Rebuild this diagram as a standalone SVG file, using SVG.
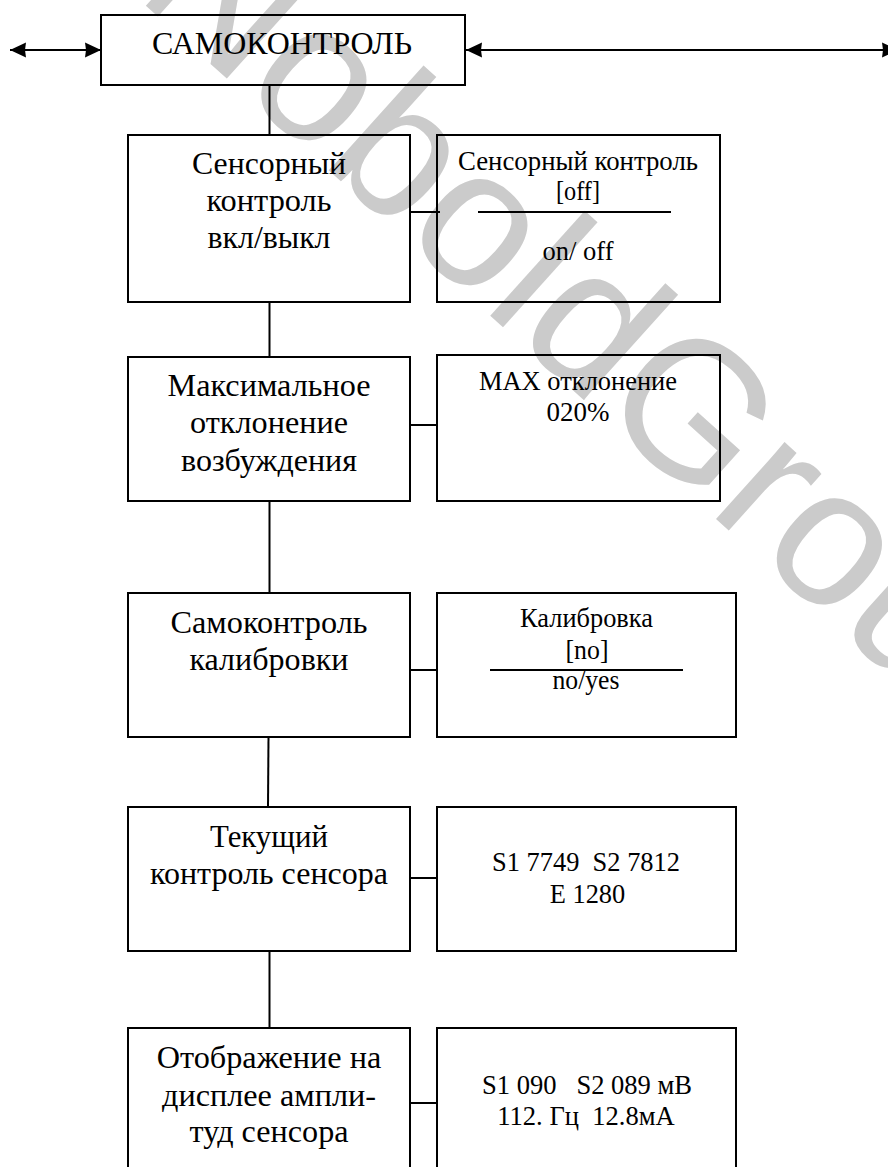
<svg xmlns="http://www.w3.org/2000/svg" width="888" height="1167" viewBox="0 0 888 1167">
<style>
.box{fill:none;stroke:#000;stroke-width:2}
.ln{fill:none;stroke:#000;stroke-width:2}
.t{font-family:'Liberation Serif','DejaVu Serif',serif;fill:#000;text-anchor:middle;white-space:pre}
.l{font-size:32px}
.r{font-size:26.67px}
.wm{font-family:'Liberation Sans',Arial,sans-serif;font-size:195px;fill:#cbcbcb}
</style>
<defs>
<marker id="ah" markerUnits="userSpaceOnUse" viewBox="-17 -9 19 18" markerWidth="19" markerHeight="18" refX="0" refY="0" orient="auto-start-reverse">
<path d="M0,0 L-16,-7.5 L-15,0 L-16,7.5 Z" fill="#000"/>
</marker>
</defs>
<rect width="888" height="1167" fill="#fff"/>
<text class="wm" transform="translate(134,-5) rotate(42)">NoboldGroup</text>

<g id="connectors">
<line class="ln" x1="10" y1="50" x2="101" y2="50" marker-start="url(#ah)" marker-end="url(#ah)"/>
<line class="ln" x1="466" y1="50" x2="898" y2="50" marker-start="url(#ah)" marker-end="url(#ah)"/>
<line class="ln" x1="269.5" y1="85" x2="269.5" y2="135"/>
<line class="ln" x1="269.5" y1="302" x2="269.5" y2="357"/>
<line class="ln" x1="269.5" y1="501" x2="269.5" y2="593"/>
<line class="ln" x1="268.5" y1="737" x2="268" y2="807"/>
<line class="ln" x1="269.5" y1="951" x2="269.5" y2="1028"/>
<line class="ln" x1="410" y1="212" x2="440" y2="212"/>
<line class="ln" x1="410" y1="425" x2="437" y2="425"/>
<line class="ln" x1="410" y1="670" x2="437" y2="670"/>
<line class="ln" x1="410" y1="878" x2="437" y2="878"/>
<line class="ln" x1="410" y1="1103" x2="437" y2="1103"/>
</g>

<g id="n-title">
<rect class="box" x="101" y="15" width="364" height="70"/>
<text class="t l" x="282" y="54" textLength="260" lengthAdjust="spacingAndGlyphs">САМОКОНТРОЛЬ</text>
</g>

<g id="n1">
<rect class="box" x="128" y="135" width="282" height="167"/>
<text class="t l" x="269" y="174" textLength="154" lengthAdjust="spacingAndGlyphs">Сенсорный</text>
<text class="t l" x="269" y="211" textLength="125" lengthAdjust="spacingAndGlyphs">контроль</text>
<text class="t l" x="269" y="248" textLength="123" lengthAdjust="spacingAndGlyphs">вкл/выкл</text>
</g>
<g id="n1r">
<rect class="box" x="437" y="135" width="283" height="167"/>
<text class="t r" x="578" y="170" textLength="240" lengthAdjust="spacingAndGlyphs">Сенсорный контроль</text>
<text class="t r" x="578" y="200" textLength="44" lengthAdjust="spacingAndGlyphs">[off]</text>
<line class="ln" x1="478" y1="212" x2="671" y2="212"/>
<text class="t r" x="578" y="260" textLength="71" lengthAdjust="spacingAndGlyphs">on/ off</text>
</g>

<g id="n2">
<rect class="box" x="128" y="357" width="282" height="144"/>
<text class="t l" x="269" y="396" textLength="203" lengthAdjust="spacingAndGlyphs">Максимальное</text>
<text class="t l" x="269" y="433" textLength="158" lengthAdjust="spacingAndGlyphs">отклонение</text>
<text class="t l" x="269" y="470.5" textLength="176" lengthAdjust="spacingAndGlyphs">возбуждения</text>
</g>
<g id="n2r">
<rect class="box" x="437" y="355" width="283" height="146"/>
<text class="t r" x="578" y="390" textLength="198" lengthAdjust="spacingAndGlyphs">MAX отклонение</text>
<text class="t r" x="578" y="421" textLength="63" lengthAdjust="spacingAndGlyphs">020%</text>
</g>

<g id="n3">
<rect class="box" x="128" y="593" width="282" height="144"/>
<text class="t l" x="269" y="632.5" textLength="197" lengthAdjust="spacingAndGlyphs">Самоконтроль</text>
<text class="t l" x="269" y="670" textLength="159" lengthAdjust="spacingAndGlyphs">калибровки</text>
</g>
<g id="n3r">
<rect class="box" x="437" y="593" width="299" height="144"/>
<text class="t r" x="586.5" y="627.3" textLength="133" lengthAdjust="spacingAndGlyphs">Калибровка</text>
<text class="t r" x="587" y="658.5" textLength="43" lengthAdjust="spacingAndGlyphs">[no]</text>
<line class="ln" x1="490" y1="670" x2="683" y2="670"/>
<text class="t r" x="586" y="689" textLength="67" lengthAdjust="spacingAndGlyphs">no/yes</text>
</g>

<g id="n4">
<rect class="box" x="128" y="807" width="282" height="144"/>
<text class="t l" x="269" y="846.5" textLength="118" lengthAdjust="spacingAndGlyphs">Текущий</text>
<text class="t l" x="269" y="884" textLength="238" lengthAdjust="spacingAndGlyphs">контроль сенсора</text>
</g>
<g id="n4r">
<rect class="box" x="437" y="807" width="299" height="144"/>
<text class="t r" x="586" y="871" textLength="188" lengthAdjust="spacingAndGlyphs">S1 7749  S2 7812</text>
<text class="t r" x="587.5" y="903.3" textLength="75.5" lengthAdjust="spacingAndGlyphs">E 1280</text>
</g>

<g id="n5">
<rect class="box" x="128" y="1028" width="282" height="170"/>
<text class="t l" x="269" y="1068" textLength="224.5" lengthAdjust="spacingAndGlyphs">Отображение на</text>
<text class="t l" x="269" y="1105.5" textLength="214" lengthAdjust="spacingAndGlyphs">дисплее ампли-</text>
<text class="t l" x="269" y="1141.5" textLength="159" lengthAdjust="spacingAndGlyphs">туд сенсора</text>
</g>
<g id="n5r">
<rect class="box" x="437" y="1028" width="299" height="170"/>
<text class="t r" x="587" y="1094" textLength="210" lengthAdjust="spacingAndGlyphs">S1 090   S2 089 мВ</text>
<text class="t r" x="586" y="1125" textLength="177.5" lengthAdjust="spacingAndGlyphs">112. Гц  12.8мА</text>
</g>
</svg>
